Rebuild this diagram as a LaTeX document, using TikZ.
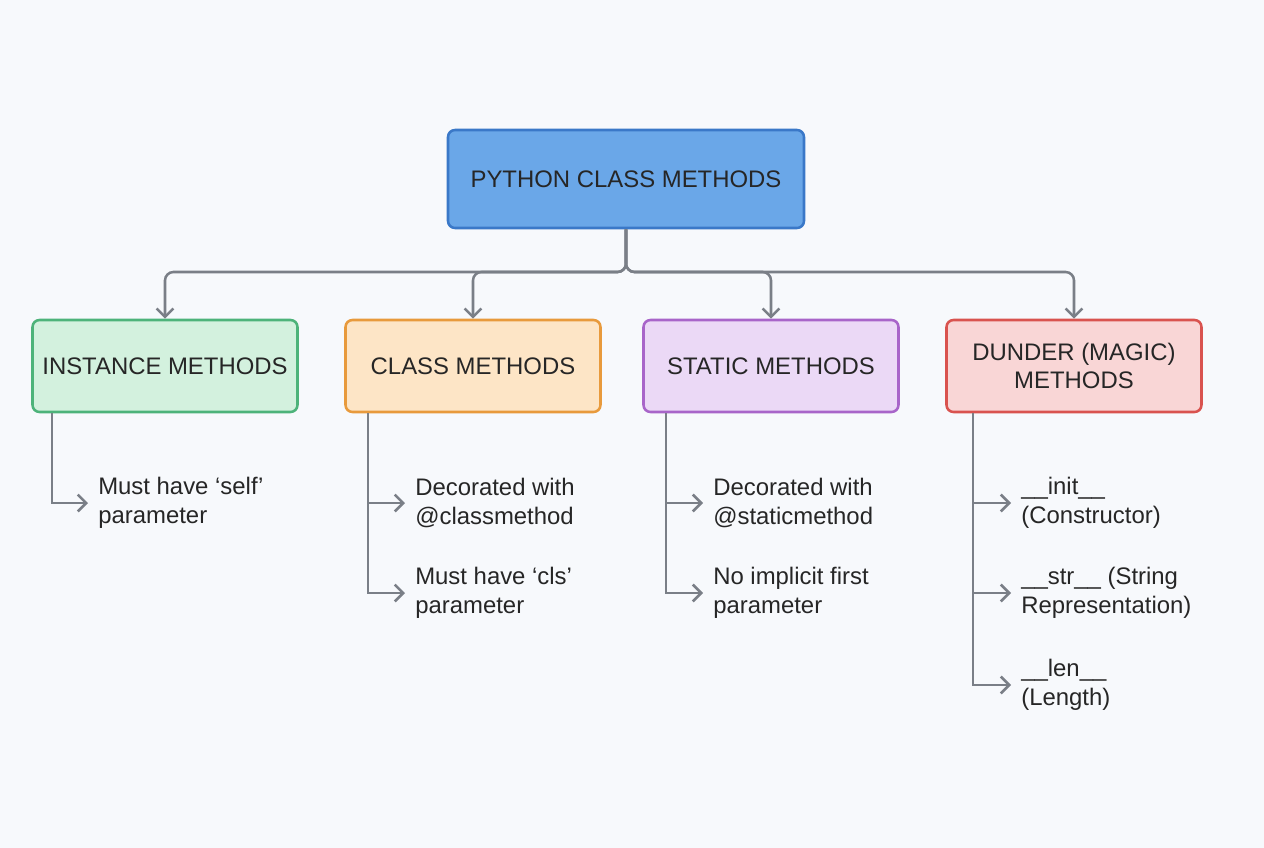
\documentclass[tikz,border=0pt]{standalone}
\usepackage{fontspec}
\setmainfont{Liberation Sans}
\usetikzlibrary{arrows.meta}
\definecolor{bgc}{HTML}{F7F9FC}
\definecolor{linec}{HTML}{7A7F87}
\definecolor{rootfill}{HTML}{6AA7E8}\definecolor{rootdraw}{HTML}{3A78C8}
\definecolor{gfill}{HTML}{D3F1DE}\definecolor{gdraw}{HTML}{4DB37A}
\definecolor{ofill}{HTML}{FDE5C6}\definecolor{odraw}{HTML}{E89A3C}
\definecolor{pfill}{HTML}{EBD9F6}\definecolor{pdraw}{HTML}{A865C9}
\definecolor{rfill}{HTML}{F9D6D6}\definecolor{rdraw}{HTML}{D9534F}
\begin{document}
\begin{tikzpicture}[x=0.025cm, y=-0.025cm,
    box/.style={rectangle, rounded corners=5pt, line width=1.8pt, minimum height=92*0.025cm,
                minimum width=255*0.025cm, align=center, font=\fontsize{17}{20}\selectfont, text=black!85},
    leaf/.style={anchor=west, align=left, font=\fontsize{17}{21}\selectfont, text=black!85, inner sep=0pt},
    conn/.style={draw=linec, line width=1.8pt, rounded corners=6pt, -{Straight Barb[length=6pt,width=12pt]}}]
  \fill[bgc] (0,0) rectangle (1264,848);
  \useasboundingbox (0,0) rectangle (1264,848);

  \node[box, fill=rootfill, draw=rootdraw, minimum width=356*0.025cm, minimum height=98*0.025cm] (root) at (626,179) {PYTHON CLASS METHODS};
  \node[box, fill=gfill, draw=gdraw, minimum width=265*0.025cm] (inst) at (165,366) {INSTANCE METHODS};
  \node[box, fill=ofill, draw=odraw] (cls) at (473,366) {CLASS METHODS};
  \node[box, fill=pfill, draw=pdraw] (stat) at (771,366) {STATIC METHODS};
  \node[box, fill=rfill, draw=rdraw] (dund) at (1074,366) {DUNDER (MAGIC)\\METHODS};

  \coordinate (split) at (626,272);
  \foreach \n in {inst,cls,stat,dund}
    \draw[conn] (root.south) -- (split) -| (\n.north);

  % leaves
  \node[leaf] (i1) at (98,503) {Must have ‘self’\\parameter};
  \node[leaf] (c1) at (415,503) {Decorated with\\@classmethod};
  \node[leaf] (c2) at (415,593) {Must have ‘cls’\\parameter};
  \node[leaf] (s1) at (713,503) {Decorated with\\@staticmethod};
  \node[leaf] (s2) at (713,593) {No implicit first\\parameter};
  \node[leaf] (d1) at (1021,503) {\_\_init\_\_\\(Constructor)};
  \node[leaf] (d2) at (1021,593) {\_\_str\_\_ (String\\Representation)};
  \node[leaf] (d3) at (1021,685) {\_\_len\_\_\\(Length)};

  \foreach \b/\x/\l in {inst/52/i1, cls/368/c1, cls/368/c2, stat/666/s1, stat/666/s2,
                        dund/973/d1, dund/973/d2, dund/973/d3}
    \draw[conn, rounded corners=0pt] (\b.south -| \x,0) |- ([xshift=-10*0.025cm]\l.west);
\end{tikzpicture}
\end{document}
